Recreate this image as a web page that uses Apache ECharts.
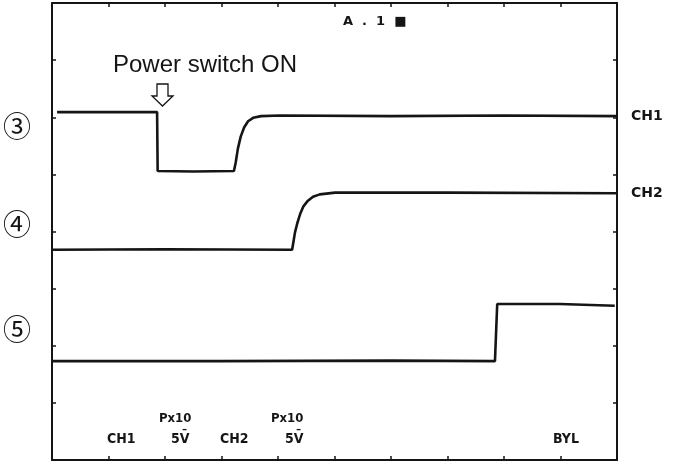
<!DOCTYPE html>
<html>
<head>
<meta charset="utf-8">
<script src="https://cdn.jsdelivr.net/npm/echarts@6/dist/echarts.min.js"></script>
<style>
html,body{margin:0;padding:0;background:#fff;}
#c{width:682px;height:464px;}
</style>
</head>
<body>
<div id="c"></div>
<script>
// Screen divisions: x 0..10, y 0..8
var xTicks = [0,1,2,3,4,5,6,7,8,9,10];
var yTicks = [0,1,2,3,4,5,6,7,8];

var ch1Trace = [
  [0.09,6.09],[1.86,6.09],[1.87,5.06],[2.5,5.05],[3.22,5.06],
  [3.25,5.20],[3.29,5.45],[3.34,5.66],[3.40,5.82],[3.47,5.93],
  [3.56,5.99],[3.70,6.02],[4.04,6.03],[6.0,6.02],[8.0,6.03],[10.0,6.02]
];
var ch2Trace = [
  [0.0,3.68],[2.0,3.69],[4.25,3.68],[4.27,3.80],[4.30,3.98],[4.34,4.14],
  [4.39,4.30],[4.45,4.44],[4.53,4.54],[4.62,4.61],[4.74,4.65],[5.01,4.68],
  [7.0,4.68],[10.0,4.67]
];
var ch3Trace = [
  [0.0,1.73],[3.0,1.73],[6.0,1.74],[7.84,1.73],[7.88,2.73],
  [8.99,2.73],[9.96,2.70]
];
var traceNames = ['CH1','CH2',''];
var circledMarks = ['③','④','⑤'];
var bottomLabels = ['CH1','5V̄','CH2','5V̄','BYL'];
var probeLabels = ['Px10','Px10'];
var headerText = 'A  .  1  ■';
var annotationText = 'Power switch ON';

var chart = echarts.init(document.getElementById('c'));
var ink = '#151515';

function frameAxis(pos, isX){
  return {
    type:'value', position:pos, min:0, max:isX?10:8, interval:1,
    axisLine:{show:true,onZero:false,lineStyle:{color:ink,width:2}},
    axisTick:{show:true,inside:true,length:4,lineStyle:{color:ink,width:1.5}},
    axisLabel:{show:false}, splitLine:{show:false}
  };
}

function trace(data, name){
  return {
    type:'line', name:name, data:data, showSymbol:false, symbol:'none',
    xAxisIndex:0, yAxisIndex:0, animation:false,
    lineStyle:{color:ink,width:2.6},
    endLabel:{show:!!name, formatter:name, color:ink, fontFamily:'DejaVu Sans',
      fontWeight:'bold', fontSize:14, distance:14}
  };
}

var monoFont = 'bold 14px "DejaVu Sans Condensed", "DejaVu Sans", sans-serif';
var smallFont = 'bold 13px "DejaVu Sans Condensed", "DejaVu Sans", sans-serif';
function txt(x,y,t,font){
  return {type:'text', left:x, top:y, style:{text:t, font:font||monoFont, fill:ink}};
}
var circFont = '28px "Noto Sans CJK JP", "DejaVu Sans", sans-serif';

var graphics = [
  txt(113,53,annotationText,'24px "Liberation Sans", Arial, sans-serif'),
  {type:'polygon', shape:{points:[[157,84],[168,84],[168,96],[173,96],[162.5,106],[152,96],[157,96]]},
    style:{fill:'#fff',stroke:ink,lineWidth:1.3}},
  txt(3,112,circledMarks[0],circFont),
  txt(3,210,circledMarks[1],circFont),
  txt(3,315,circledMarks[2],circFont),
  txt(343,15,headerText,'bold 13px "DejaVu Sans", sans-serif'),
  txt(107,432,bottomLabels[0]),
  txt(171,432,bottomLabels[1]),
  txt(220,432,bottomLabels[2]),
  txt(285,432,bottomLabels[3]),
  txt(553,432,bottomLabels[4]),
  txt(159,412,probeLabels[0],smallFont),
  txt(271,412,probeLabels[1],smallFont)
];

chart.setOption({
  animation:false,
  backgroundColor:'#fff',
  grid:{left:52,right:65,top:3,bottom:4,containLabel:false},
  xAxis:[frameAxis('bottom',true),frameAxis('top',true)],
  yAxis:[frameAxis('left',false),frameAxis('right',false)],
  series:[trace(ch1Trace,traceNames[0]),trace(ch2Trace,traceNames[1]),trace(ch3Trace,traceNames[2])],
  graphic:graphics
});
</script>
</body>
</html>
